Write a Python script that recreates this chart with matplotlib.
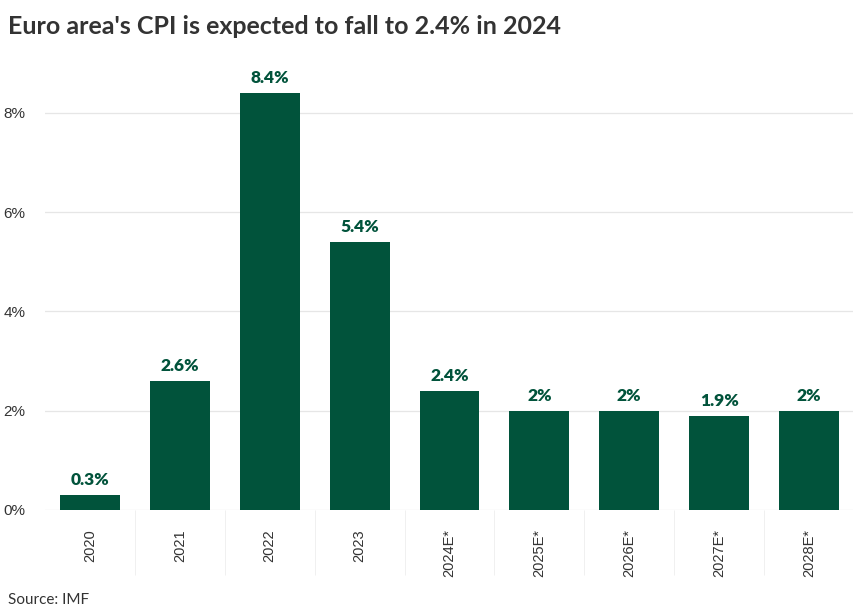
import matplotlib.pyplot as plt
import numpy as np

# Datos
anios = ['2020', '2021', '2022', '2023', '2024E*', '2025E*', '2026E*', '2027E*', '2028E*']
ipc = [0.3, 2.6, 8.4, 5.4, 2.4, 2.0, 2.0, 1.9, 2.0]
etiquetas = ['0.3%', '2.6%', '8.4%', '5.4%', '2.4%', '2%', '2%', '1.9%', '2%']
ticks_y = [0, 2, 4, 6, 8]

verde = '#01533b'
gris_texto = '#333333'

fig = plt.figure(figsize=(8.54, 6.14), dpi=100)
ax = fig.add_axes([0.0527, 0.1694, 0.9473, 0.7276])

x = np.arange(len(anios))
ax.bar(x, ipc, width=0.667, color=verde, zorder=3)

for xi, v, t in zip(x, ipc, etiquetas):
    ax.annotate(t, (xi, v), xytext=(0, 5), textcoords='offset points',
                ha='center', va='bottom', fontsize=12.5, fontweight='heavy',
                color=verde, family='Lato')

ax.set_xlim(-0.5, len(anios) - 0.5)
ax.set_ylim(0, 9.0)
ax.set_yticks(ticks_y)
ax.set_yticklabels([f'{t}%' for t in ticks_y], fontsize=11, color=gris_texto,
                   family='Liberation Sans')
ax.set_xticks(x)
ax.set_xticklabels(anios, rotation=90, fontsize=10.5, color=gris_texto,
                   family='Liberation Sans', va='top')
ax.tick_params(axis='x', length=0, pad=14)
ax.tick_params(axis='y', length=0, pad=14)

# lineas verticales entre categorias bajo el eje
ax.set_xticks(np.arange(len(anios)) + 0.5, minor=True)
ax.tick_params(axis='x', which='minor', length=47, width=0.6, color='#eeeeee')

ax.grid(axis='y', color='#e6e6e6', linewidth=0.9, zorder=0)
for s in ax.spines.values():
    s.set_visible(False)

fig.text(0.009, 0.957, "Euro area's CPI is expected to fall to 2.4% in 2024",
         fontsize=18, fontweight='bold', color=gris_texto, family='Lato',
         va='center')
fig.text(0.009, 0.022, 'Source: IMF', fontsize=11, color=gris_texto,
         family='Lato', va='center')

fig.savefig('out.png', dpi=100)
